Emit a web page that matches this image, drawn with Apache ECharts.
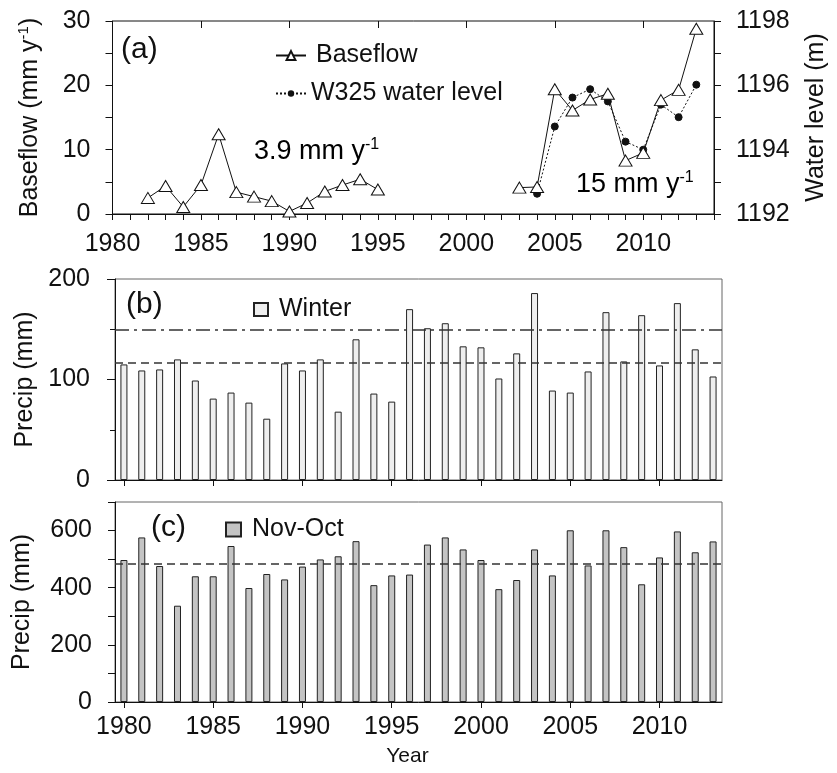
<!DOCTYPE html>
<html>
<head>
<meta charset="utf-8">
<script src="https://cdn.jsdelivr.net/npm/echarts@6/dist/echarts.min.js"></script>
<style>
html,body{margin:0;padding:0;background:#fff;}
#chart{width:837px;height:773px;}
</style>
</head>
<body>
<div id="chart"></div>
<script>
// ---- data ----
const years = [1980,1981,1982,1983,1984,1985,1986,1987,1988,1989,1990,1991,1992,1993,1994,1995,1996,
               1997,1998,1999,2000,2001,2002,2003,2004,2005,2006,2007,2008,2009,2010,2011,2012,2013];
const baseflowYearsEarly = [1982,1983,1984,1985,1986,1987,1988,1989,1990,1991,1992,1993,1994,1995];
const baseflowEarly = [2.5,4.35,1.1,4.5,12.4,3.4,2.7,2.0,0.4,1.7,3.5,4.5,5.4,3.8];
const baseflowYearsLate = [2003,2004,2005,2006,2007,2008,2009,2010,2011,2012,2013];
const baseflowLate = [4.1,4.2,19.4,16.1,17.8,18.7,8.3,9.5,17.7,19.3,28.8];
const waterYears = [2004,2005,2006,2007,2008,2009,2010,2011,2012,2013];
const waterLevel = [1192.63,1194.72,1195.62,1195.88,1195.5,1194.25,1194.0,1195.4,1195.01,1196.02];
const winterPrecip = [115,109,110,120,99,81,87,77,61,116,109,120,68,140,86,78,170,
                      151,156,133,132,101,126,186,89,87,108,167,118,164,114,176,130,103];
const annualPrecip = [497,576,476,337,440,440,546,399,448,429,474,499,510,563,409,443,446,
                      551,576,534,497,395,427,534,443,601,478,601,542,412,506,597,524,562];
const winterRefLines = [150, 117];
const annualMean = [484];
const baseflowTicks = [0, 30, 10];
const waterTicks = [1192, 1198, 2];

const FONT = "'Liberation Sans', Arial, sans-serif";
const INK = '#111';

function pairs(xs, ys){ return xs.map((x,i)=>[x, ys[i]]); }

const chart = echarts.init(document.getElementById('chart'), null, {renderer:'canvas'});

const supRich = {
  a: {fontSize: 25, fontFamily: FONT, color: INK, lineHeight: 28},
  s: {fontSize: 15, fontFamily: FONT, color: INK, lineHeight: 15, verticalAlign: 'top'}
};
const annRich = {
  a: {fontSize: 27, fontFamily: FONT, color: INK, lineHeight: 30},
  s: {fontSize: 16, fontFamily: FONT, color: INK, lineHeight: 16, verticalAlign: 'top'}
};

const option = {
  animation: false,
  backgroundColor: '#fff',
  textStyle: {fontFamily: FONT, color: INK},
  grid: [
    {left: 112.5, right: 117, top: 21, height: 193, show: true, borderColor: INK, borderWidth: 1, containLabel: false},
    {left: 115, right: 115, top: 279, height: 201, show: true, borderColor: '#666', borderWidth: 1},
    {left: 115, right: 115, top: 502, height: 200, show: true, borderColor: '#666', borderWidth: 1}
  ],
  xAxis: [
    {gridIndex: 0, type: 'value', min: 1980, max: 2014, interval: 1,
     axisLine: {show: true, lineStyle: {color: INK, width: 1}},
     axisTick: {show: true, inside: false, length: 6, lineStyle: {color: INK}},
     axisLabel: {fontSize: 25, color: INK, margin: 18, fontFamily: FONT,
                 formatter: v => (v % 5 === 0 && v < 2014) ? String(v) : ''},
     splitLine: {show: false}},
    {gridIndex: 0, type: 'value', min: 1980, max: 2014, interval: 5,
     axisLine: {show: false}, axisTick: {show: true, inside: true, length: 7, lineStyle: {color: INK}},
     axisLabel: {show: false}, splitLine: {show: false}},
    {gridIndex: 1, type: 'category', data: years, boundaryGap: true,
     axisLine: {show: true, lineStyle: {color: INK}},
     axisTick: {show: true, alignWithLabel: true, length: 6, interval: (i, v) => Number(v) % 5 === 0, lineStyle: {color: INK}},
     axisLabel: {show: false}, splitLine: {show: false}},
    {gridIndex: 2, type: 'category', data: years, boundaryGap: true,
     axisLine: {show: true, lineStyle: {color: INK}},
     axisTick: {show: true, alignWithLabel: true, length: 6, interval: (i, v) => Number(v) % 5 === 0, lineStyle: {color: INK}},
     axisLabel: {show: true, fontSize: 25, color: INK, margin: 13, fontFamily: FONT, interval: (i, v) => Number(v) % 5 === 0},
     name: 'Year', nameLocation: 'middle', nameGap: 44,
     nameTextStyle: {fontSize: 21, color: INK, fontFamily: FONT, padding: [0, 22, 0, 0]},
     splitLine: {show: false}}
  ],
  yAxis: [
    {gridIndex: 0, type: 'value', min: baseflowTicks[0], max: baseflowTicks[1], interval: baseflowTicks[2],
     axisLine: {show: true, lineStyle: {color: INK}},
     axisTick: {show: true, length: 7, lineStyle: {color: INK}},
     minorTick: {show: true, splitNumber: 2, length: 7, lineStyle: {color: INK}},
     axisLabel: {fontSize: 25, color: INK, margin: 22, fontFamily: FONT},
     splitLine: {show: false}, minorSplitLine: {show: false},
     name: '{a|Baseflow (mm y}{s|-1}{a|)}', nameLocation: 'middle', nameGap: 68, nameRotate: 90,
     nameTextStyle: {rich: supRich}},
    {gridIndex: 0, type: 'value', position: 'right', min: waterTicks[0], max: waterTicks[1], interval: waterTicks[2],
     axisLine: {show: true, lineStyle: {color: INK}},
     axisTick: {show: true, length: 7, lineStyle: {color: INK}},
     minorTick: {show: true, splitNumber: 2, length: 7, lineStyle: {color: INK}},
     axisLabel: {fontSize: 25, color: INK, margin: 22, fontFamily: FONT, formatter: v => String(v)},
     splitLine: {show: false},
     name: 'Water level (m)', nameLocation: 'middle', nameGap: 90, nameRotate: 90,
     nameTextStyle: {fontSize: 25, color: INK, fontFamily: FONT}},
    {gridIndex: 1, type: 'value', min: 0, max: 200, interval: 100,
     axisLine: {show: true, lineStyle: {color: INK}},
     axisTick: {show: true, length: 8, lineStyle: {color: INK}},
     minorTick: {show: true, splitNumber: 2, length: 5, lineStyle: {color: INK}},
     axisLabel: {fontSize: 25, color: INK, margin: 25, fontFamily: FONT},
     splitLine: {show: false},
     name: 'Precip (mm)', nameLocation: 'middle', nameGap: 72,
     nameTextStyle: {fontSize: 25, color: INK, fontFamily: FONT}},
    {gridIndex: 2, type: 'value', min: 0, max: 700, interval: 100,
     axisLine: {show: true, lineStyle: {color: INK}},
     axisTick: {show: true, length: 7, lineStyle: {color: INK}},
     axisLabel: {fontSize: 25, color: INK, margin: 23, fontFamily: FONT,
                 formatter: v => (v % 200 === 0) ? String(v) : ''},
     splitLine: {show: false},
     name: 'Precip (mm)', nameLocation: 'middle', nameGap: 80,
     nameTextStyle: {fontSize: 25, color: INK, fontFamily: FONT}}
  ],
  legend: [
    {data: ['Baseflow'], left: 270, top: 38, orient: 'vertical', selectedMode: false,
     itemWidth: 30, itemHeight: 11, itemGap: 0,
     textStyle: {fontSize: 25, color: INK, fontFamily: FONT, padding: [0, 0, 0, 5]}},
    {data: ['W325 water level'], left: 270, top: 76, orient: 'vertical', selectedMode: false,
     itemWidth: 30, itemHeight: 8, itemGap: 0,
     textStyle: {fontSize: 25, color: INK, fontFamily: FONT}},
    {data: ['Winter'], left: 248, top: 292, selectedMode: false,
     itemWidth: 14, itemHeight: 13, icon: 'rect',
     textStyle: {fontSize: 25, color: INK, fontFamily: FONT, padding: [0, 0, 0, 6]}},
    {data: ['Nov-Oct'], left: 220, top: 512, selectedMode: false,
     itemWidth: 15, itemHeight: 14, icon: 'rect',
     textStyle: {fontSize: 25, color: INK, fontFamily: FONT, padding: [0, 0, 0, 6]}}
  ],
  graphic: [
    {type: 'text', x: 121, y: 50, style: {text: '(a)', font: "30px " + FONT, fill: INK, verticalAlign: 'middle', align: 'left'}},
    {type: 'text', x: 126, y: 305, style: {text: '(b)', font: "30px " + FONT, fill: INK, verticalAlign: 'middle', align: 'left'}},
    {type: 'text', x: 151, y: 528, style: {text: '(c)', font: "30px " + FONT, fill: INK, verticalAlign: 'middle', align: 'left'}},
    {type: 'text', x: 254, y: 152, style: {text: '{a|3.9 mm y}{s|-1}', verticalAlign: 'middle', align: 'left', rich: annRich}},
    {type: 'text', x: 576, y: 185, style: {text: '{a|15 mm y}{s|-1}', verticalAlign: 'middle', align: 'left', rich: annRich}}
  ],
  series: [
    {name: 'Baseflow', type: 'line', xAxisIndex: 0, yAxisIndex: 0, data: pairs(baseflowYearsEarly, baseflowEarly),
     symbol: 'triangle', symbolSize: [13, 11], z: 4,
     itemStyle: {color: '#fff', borderColor: INK, borderWidth: 1},
     lineStyle: {color: INK, width: 1}},
    {name: 'Baseflow', type: 'line', xAxisIndex: 0, yAxisIndex: 0, data: pairs(baseflowYearsLate, baseflowLate),
     symbol: 'triangle', symbolSize: [13, 11], z: 4,
     itemStyle: {color: '#fff', borderColor: INK, borderWidth: 1},
     lineStyle: {color: INK, width: 1}},
    {name: 'W325 water level', type: 'line', xAxisIndex: 0, yAxisIndex: 1, data: pairs(waterYears, waterLevel),
     symbol: 'circle', symbolSize: 7, z: 3,
     itemStyle: {color: INK, borderColor: INK},
     lineStyle: {color: INK, width: 1, type: [2, 2]}},
    {name: 'Winter', type: 'bar', xAxisIndex: 2, yAxisIndex: 2, data: winterPrecip, barWidth: 7,
     itemStyle: {color: '#eeeeee', borderColor: '#222', borderWidth: 1},
     markLine: {silent: true, symbol: 'none', label: {show: false},
       data: [
         {yAxis: winterRefLines[0], lineStyle: {color: '#333', width: 1.5, type: [14, 5, 3, 5]}},
         {yAxis: winterRefLines[1], lineStyle: {color: '#333', width: 1.5, type: [8, 5]}}
       ]}},
    {name: 'Nov-Oct', type: 'bar', xAxisIndex: 3, yAxisIndex: 3, data: annualPrecip, barWidth: 7,
     itemStyle: {color: '#c4c4c4', borderColor: '#222', borderWidth: 1},
     markLine: {silent: true, symbol: 'none', label: {show: false},
       data: [{yAxis: annualMean[0], lineStyle: {color: '#333', width: 1.5, type: [8, 5]}}]}}
  ]
};
chart.setOption(option);
</script>
</body>
</html>
